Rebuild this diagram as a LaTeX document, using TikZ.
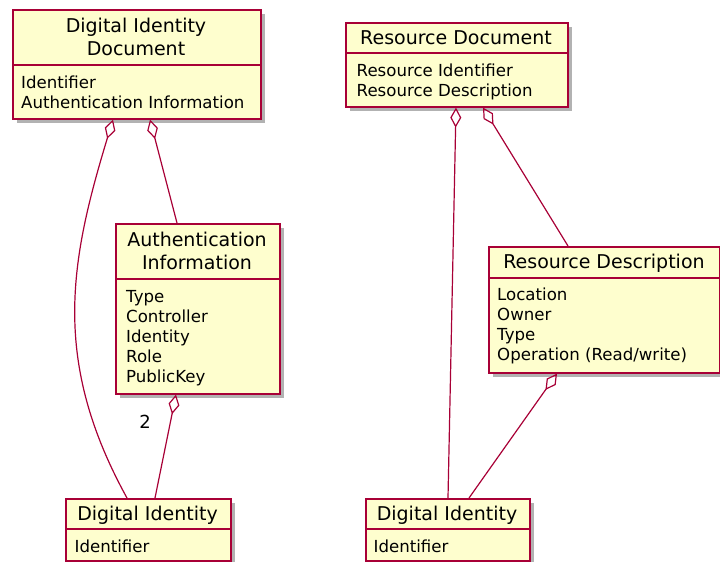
\documentclass[tikz,border=0pt]{standalone}
\usepackage{fontspec}
\setmainfont{DejaVu Sans}
\usetikzlibrary{arrows.meta,shadows,calc}
\definecolor{umlred}{HTML}{A80036}
\definecolor{umlfill}{HTML}{FEFECE}
\tikzset{
 cls/.style={draw=umlred, fill=umlfill, line width=1.6pt, inner sep=0pt, anchor=north west,
   drop shadow={shadow xshift=4pt, shadow yshift=-4pt, fill=black, opacity=0.3}},
 sepline/.style={draw=umlred, line width=1.3pt},
 hdr/.style={inner sep=0pt, font=\fontsize{19}{23}\selectfont, align=center},
 attrs/.style={inner sep=0pt, font=\fontsize{16.6}{20}\selectfont, align=left, anchor=north west},
 agg/.style={draw=umlred, line width=1.2pt, {Diamond[open, length=20pt, width=11pt]}-},
 multlabel/.style={inner sep=0pt, font=\fontsize{18}{20}\selectfont},
}
\begin{document}
\begin{tikzpicture}[x=1pt,y=-1pt]
\useasboundingbox (0,0) rectangle (720,562);
% class boxes
\node[cls, minimum width=248pt, minimum height=109pt] (did) at (12,9) {};
\node[cls, minimum width=164pt, minimum height=170pt] (auth) at (115,223) {};
\node[cls, minimum width=222pt, minimum height=84pt] (rdoc) at (345,22) {};
\node[cls, minimum width=231pt, minimum height=126pt] (rdesc) at (488,246) {};
\node[cls, minimum width=165pt, minimum height=62pt] (di1) at (65,498) {};
\node[cls, minimum width=164pt, minimum height=62pt] (di2) at (365,498) {};
% separators
\draw[sepline] (did.west |- 0,65) -- (did.east |- 0,65);
\draw[sepline] (auth.west |- 0,279) -- (auth.east |- 0,279);
\draw[sepline] (rdoc.west |- 0,53) -- (rdoc.east |- 0,53);
\draw[sepline] (rdesc.west |- 0,278) -- (rdesc.east |- 0,278);
\draw[sepline] (di1.west |- 0,529) -- (di1.east |- 0,529);
\draw[sepline] (di2.west |- 0,529) -- (di2.east |- 0,529);
% headers
\node[hdr, anchor=north] (didh) at (136,18.1) {Digital Identity\\Document};
\node[hdr, anchor=north] (authh) at (197,232.3) {Authentication\\Information};
\node[hdr, anchor=base] (rdoch) at (456,44) {Resource Document};
\node[hdr, anchor=base] (rdesch) at (604,268.5) {Resource Description};
\node[hdr, anchor=base] (di1h) at (147.5,520) {Digital Identity};
\node[hdr, anchor=base] (di2h) at (447,520) {Digital Identity};
% attributes
\node[attrs] (dida) at (21,75.4) {Identifier\\Authentication Information};
\node[attrs] (autha) at (126,289.9) {Type\\Controller\\Identity\\Role\\PublicKey};
\node[attrs] (rdoca) at (356.5,63.4) {Resource Identifier\\Resource Description};
\node[attrs] (rdesca) at (497,287.4) {Location\\Owner\\Type\\Operation (Read/write)};
\node[attrs, anchor=base west] (di1a) at (74.5,552) {Identifier};
\node[attrs, anchor=base west] (di2a) at (373.5,552) {Identifier};
% connectors
\draw[agg] (113,0 |- did.south) .. controls (70,261) and (51,360) .. (127,0 |- di1.north);
\draw[agg] (150,0 |- did.south) -- (177,0 |- auth.north);
\draw[agg] (176,0 |- auth.south) -- (155,0 |- di1.north);
\node[multlabel] (mult) at (145,422) {2};
\draw[agg] (456,0 |- rdoc.south) -- (448,0 |- di2.north);
\draw[agg] (483,0 |- rdoc.south) -- (568,0 |- rdesc.north);
\draw[agg] (557,0 |- rdesc.south) -- (469,0 |- di2.north);
\end{tikzpicture}
\end{document}
